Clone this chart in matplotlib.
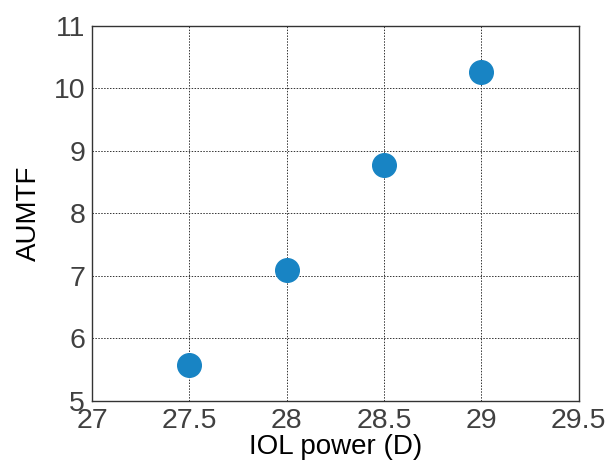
import matplotlib
matplotlib.use("Agg")
import matplotlib.pyplot as plt

iol_power = [27.5, 28.0, 28.5, 29.0]
aumtf = [5.57, 7.10, 8.77, 10.26]
xticks = [27, 27.5, 28, 28.5, 29, 29.5]
xticklabels = ["27", "27.5", "28", "28.5", "29", "29.5"]
yticks = [5, 6, 7, 8, 9, 10, 11]

plt.rcParams['font.family'] = ['Liberation Sans', 'DejaVu Sans']

fig = plt.figure(figsize=(6.06, 4.62), dpi=100)
ax = fig.add_axes([0.152, 0.132, 0.803, 0.812])
ax.plot(iol_power, aumtf, 'o', color='#1884c4', markersize=17, zorder=3)
ax.set_xlim(27, 29.5)
ax.set_ylim(5, 11)
ax.set_xticks(xticks)
ax.set_xticklabels(xticklabels)
ax.set_yticks(yticks)
ax.grid(True, color='#333333', linestyle=(0, (1.5, 1.5)), linewidth=0.7)
ax.tick_params(length=0, labelsize=20.5, labelcolor='#404040', pad=5)
for s in ax.spines.values():
    s.set_color('#333333')
    s.set_linewidth(1.0)
ax.set_xlabel('IOL power (D)', fontsize=20, color='black', labelpad=0)
ax.set_ylabel('AUMTF', fontsize=20, color='black', labelpad=8)
fig.savefig('out.png', dpi=100)
